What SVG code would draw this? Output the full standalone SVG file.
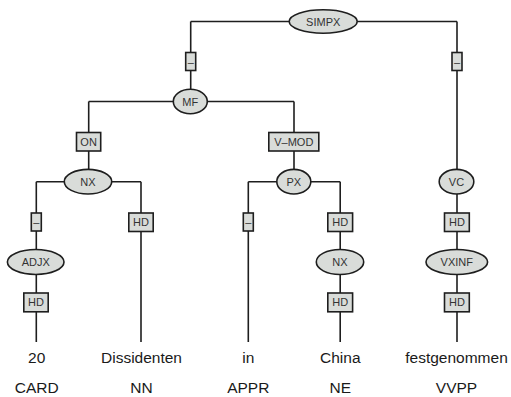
<svg xmlns="http://www.w3.org/2000/svg" width="511" height="397" viewBox="0 0 511 397">
<style>
  .edge { fill: none; stroke: #1e1e1e; stroke-width: 1.6; }
  .cat { fill: #d9dcd9; stroke: #1e1e1e; stroke-width: 1.6; }
  .fn { fill: #d9dcd9; stroke: #1e1e1e; stroke-width: 1.6; }
  .lbl { font-family: "Liberation Sans", Arial, sans-serif; font-size: 11px; fill: #333; text-anchor: middle; }
  .word { font-family: "Liberation Sans", Arial, sans-serif; font-size: 15.5px; fill: #1a1a1a; text-anchor: middle; }
</style>
<rect width="511" height="397" fill="#ffffff"/>
<g id="connectors">
  <path class="edge" d="M190.7,21.5 H457 M190.7,21.5 V101.5 M457,21.5 V342"/>
  <path class="edge" d="M88.7,101.5 H294 M88.7,101.5 V181.7 M294,101.5 V181.7"/>
  <path class="edge" d="M36.3,181.7 H141 M36.3,181.7 V342 M141,181.7 V342"/>
  <path class="edge" d="M248.3,181.7 H340.2 M248.3,181.7 V342 M340.2,181.7 V342"/>
</g>
<g id="n-simpx"><ellipse class="cat" cx="323.2" cy="21.5" rx="34" ry="11.7"/><text class="lbl" x="323.2" y="25.5">SIMPX</text></g>
<g id="e-simpx-mf"><rect class="fn" x="185.7" y="52.5" width="10" height="18"/><text class="lbl" x="190.7" y="65.5">–</text></g>
<g id="e-simpx-vc"><rect class="fn" x="452" y="52.5" width="10" height="18"/><text class="lbl" x="457" y="65.5">–</text></g>
<g id="n-mf"><ellipse class="cat" cx="190.3" cy="101.5" rx="17" ry="12.3"/><text class="lbl" x="190.3" y="105.5">MF</text></g>
<g id="e-on"><rect class="fn" x="76.5" y="132.5" width="24.2" height="18.5"/><text class="lbl" x="88.6" y="145.7">ON</text></g>
<g id="e-vmod"><rect class="fn" x="268.8" y="132.5" width="50" height="18.5"/><text class="lbl" x="293.8" y="145.7">V–MOD</text></g>
<g id="n-nx1"><ellipse class="cat" cx="88" cy="181.7" rx="23.7" ry="12.3"/><text class="lbl" x="88" y="185.7">NX</text></g>
<g id="n-px"><ellipse class="cat" cx="293.8" cy="181.7" rx="17" ry="12.3"/><text class="lbl" x="293.8" y="185.7">PX</text></g>
<g id="n-vc"><ellipse class="cat" cx="456.5" cy="181.7" rx="17.3" ry="12.3"/><text class="lbl" x="456.5" y="185.7">VC</text></g>
<g id="e-nx1-adjx"><rect class="fn" x="31.3" y="213" width="10" height="18"/><text class="lbl" x="36.3" y="226">–</text></g>
<g id="e-nx1-hd"><rect class="fn" x="128.8" y="213" width="24.4" height="18.5"/><text class="lbl" x="141" y="226.2">HD</text></g>
<g id="e-px-in"><rect class="fn" x="243.3" y="213" width="10" height="18"/><text class="lbl" x="248.3" y="226">–</text></g>
<g id="e-px-hd"><rect class="fn" x="327.8" y="213" width="24.8" height="18.5"/><text class="lbl" x="340.2" y="226.2">HD</text></g>
<g id="e-vc-hd"><rect class="fn" x="444.5" y="213" width="24.8" height="18.5"/><text class="lbl" x="456.9" y="226.2">HD</text></g>
<g id="n-adjx"><ellipse class="cat" cx="35.7" cy="262" rx="28.3" ry="12.5"/><text class="lbl" x="35.7" y="266">ADJX</text></g>
<g id="n-nx2"><ellipse class="cat" cx="340" cy="262" rx="23.7" ry="12.5"/><text class="lbl" x="340" y="266">NX</text></g>
<g id="n-vxinf"><ellipse class="cat" cx="456.8" cy="262" rx="30.8" ry="12.5"/><text class="lbl" x="456.8" y="266">VXINF</text></g>
<g id="e-adjx-hd"><rect class="fn" x="23.8" y="293" width="24.4" height="18.8"/><text class="lbl" x="36" y="306.3">HD</text></g>
<g id="e-nx2-hd"><rect class="fn" x="327.8" y="293" width="24.8" height="18.8"/><text class="lbl" x="340.2" y="306.3">HD</text></g>
<g id="e-vxinf-hd"><rect class="fn" x="444.5" y="293" width="24.8" height="18.8"/><text class="lbl" x="456.9" y="306.3">HD</text></g>
<g id="t-20"><text class="word" x="36.7" y="362.7">20</text><text class="word" x="36.7" y="392.5">CARD</text></g>
<g id="t-dissidenten"><text class="word" x="141.5" y="362.7">Dissidenten</text><text class="word" x="141.5" y="392.5">NN</text></g>
<g id="t-in"><text class="word" x="248.3" y="362.7">in</text><text class="word" x="248.3" y="392.5">APPR</text></g>
<g id="t-china"><text class="word" x="340.3" y="362.7">China</text><text class="word" x="340.3" y="392.5">NE</text></g>
<g id="t-festgenommen"><text class="word" x="456.5" y="362.7">festgenommen</text><text class="word" x="456.5" y="392.5">VVPP</text></g>
</svg>
